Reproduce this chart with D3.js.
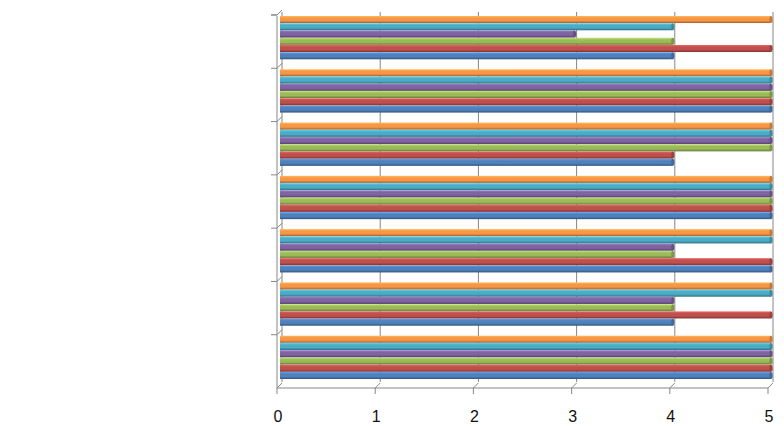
<!DOCTYPE html>
<html lang="en">
<head>
  <meta charset="utf-8">
  <title>3D clustered bar</title>
  <style>
    body { margin: 0; background: #fff; }
    svg { display: block; font-family: "Liberation Sans", sans-serif; }
  </style>
</head>
<body>
  <div id="chart"></div>
  <script src="https://d3js.org/d3.v7.min.js"></script>
  <script>
// categories listed bottom to top, as Excel draws them
const categories = ["1", "2", "3", "4", "5", "6", "7"];
const seriesNames = ["S1", "S2", "S3", "S4", "S5", "S6"];
const seriesColors = ["#4F81BD", "#C0504D", "#9BBB59", "#8064A2", "#4BACC6", "#F79646"];
const s1 = [5, 4, 5, 5, 4, 5, 4];
const s2 = [5, 5, 5, 5, 4, 5, 5];
const s3 = [5, 4, 4, 5, 5, 5, 4];
const s4 = [5, 4, 4, 5, 5, 5, 3];
const s5 = [5, 5, 5, 5, 5, 5, 4];
const s6 = [5, 5, 5, 5, 5, 5, 5];
const tickValues = [0, 1, 2, 3, 4, 5];

const seriesValues = [s1, s2, s3, s4, s5, s6];
const width = 784, height = 426;
const depth = 5;   // 3D offset of the back wall

const svg = d3.select("#chart").append("svg")
    .attr("width", width)
    .attr("height", height);

const x = d3.scaleLinear().domain([0, 5]).range([277, 768]);
const y0 = d3.scaleBand().domain(categories).range([385, 12]);
const y1 = d3.scaleBand().domain(seriesNames).range([y0.bandwidth() - 6, 4]).paddingInner(0.03);

// gradients for the cylinder look
const defs = svg.append("defs");
seriesColors.forEach((c, i) => {
    const g = defs.append("linearGradient")
        .attr("id", "grad" + i)
        .attr("x1", 0).attr("y1", 0).attr("x2", 0).attr("y2", 1);
    const col = d3.color(c);
    g.append("stop").attr("offset", "0%").attr("stop-color", col.brighter(0.6));
    g.append("stop").attr("offset", "30%").attr("stop-color", c);
    g.append("stop").attr("offset", "65%").attr("stop-color", c);
    g.append("stop").attr("offset", "100%").attr("stop-color", col.darker(1.2));
});

const axisColor = "#868686";
const grid = svg.append("g").attr("stroke", axisColor).attr("fill", "none");

// back gridlines
grid.selectAll("line.grid")
    .data(tickValues)
    .enter().append("line")
    .attr("x1", d => x(d) + depth).attr("x2", d => x(d) + depth)
    .attr("y1", 12).attr("y2", 385 - depth + 2);

// floor connectors + front ticks
grid.selectAll("path.floor")
    .data(tickValues)
    .enter().append("path")
    .attr("d", d => `M${x(d)},394 L${x(d)},388 L${x(d) + depth},${388 - depth}`);

// front axis line
grid.append("line")
    .attr("x1", x(0)).attr("x2", x(5))
    .attr("y1", 388).attr("y2", 388);

// left axis line and category ticks
grid.append("line")
    .attr("x1", x(0)).attr("x2", x(0))
    .attr("y1", 16).attr("y2", 388);
const bounds = categories.map(c => y0(c)).concat([12]);
grid.selectAll("path.cat")
    .data(bounds)
    .enter().append("path")
    .attr("d", d => `M271,${d + 3} L${x(0)},${d + 3} L${x(0) + depth},${d - 2}`);

// bars
const groups = svg.selectAll("g.cat")
    .data(categories)
    .enter().append("g")
    .attr("transform", c => `translate(0,${y0(c)})`);

groups.each(function(c, ci) {
    const g = d3.select(this);
    seriesNames.forEach((s, si) => {
        const v = seriesValues[si][ci];
        const by = y1(s), bh = y1.bandwidth();
        const x0 = x(0) + 3, xe = x(v) + 3;
        g.append("rect")
            .attr("x", x0).attr("y", by)
            .attr("width", xe - x0).attr("height", bh)
            .attr("fill", `url(#grad${si})`);
        g.append("ellipse")
            .attr("cx", xe).attr("cy", by + bh / 2)
            .attr("rx", 1.6).attr("ry", bh / 2)
            .attr("fill", d3.color(seriesColors[si]).darker(0.6));
    });
});

// tick labels
svg.selectAll("text.tick")
    .data(tickValues)
    .enter().append("text")
    .attr("x", d => x(d) + 1)
    .attr("y", 422)
    .attr("text-anchor", "middle")
    .attr("font-size", 16)
    .attr("fill", "#111")
    .text(d => d);
  </script>
</body>
</html>
